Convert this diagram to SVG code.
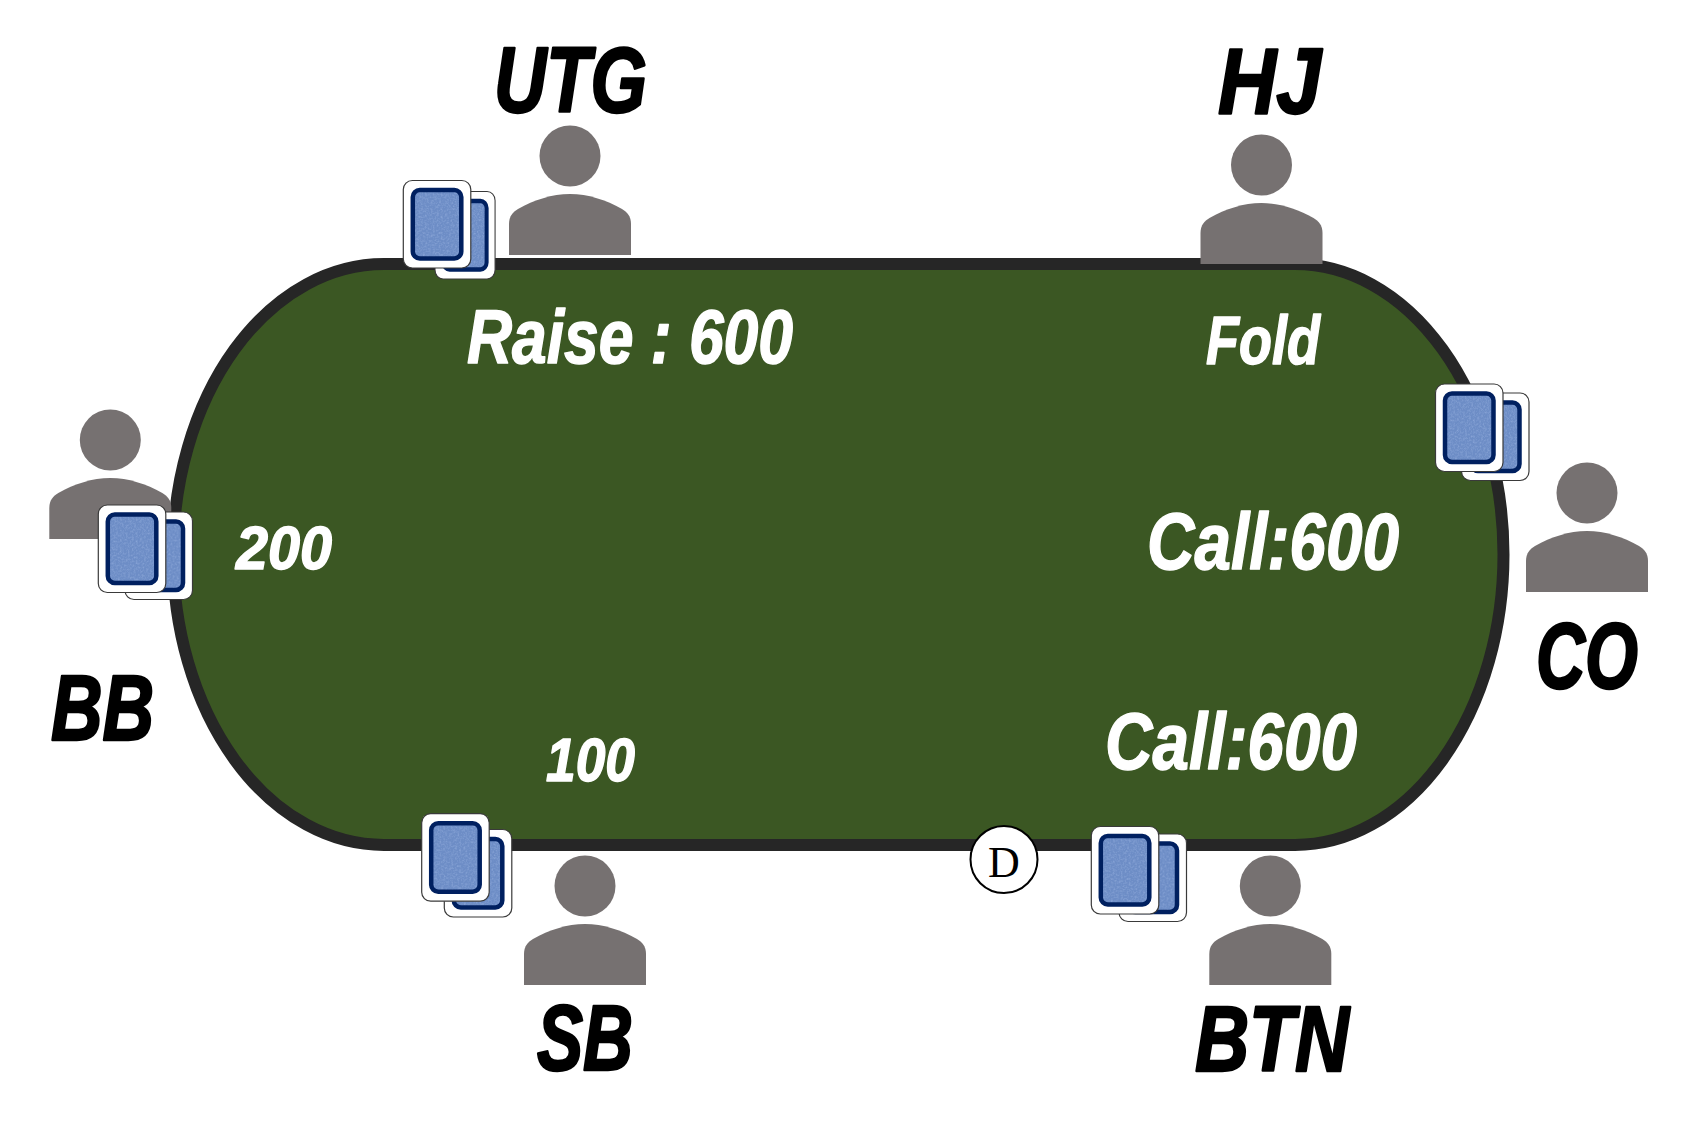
<svg xmlns="http://www.w3.org/2000/svg" width="1689" height="1135" viewBox="0 0 1689 1135">
<style>
.table{fill:#3b5723;stroke:#262626;stroke-width:12}
.person{fill:#767171}
.card{fill:#fff;stroke:#3a3a3a;stroke-width:1.2}
.face{fill:#6d8dc6;filter:url(#grain)}
.rim{fill:none;stroke:#002060;stroke-width:4.500}
.pos{font-family:"Liberation Sans",Arial,sans-serif;font-weight:700;font-style:italic;font-size:92px;fill:#000;stroke:#000;stroke-width:2.500;stroke-linejoin:round}
.act{font-family:"Liberation Sans",Arial,sans-serif;font-weight:700;font-style:italic;fill:#fff;stroke:#fff;stroke-width:1.500;stroke-linejoin:round}
.dtext{font-family:"Liberation Serif","Times New Roman",serif;font-size:44px;fill:#000;text-anchor:middle}
</style>
<defs>
<filter id="grain" x="0" y="0" width="100%" height="100%" color-interpolation-filters="sRGB">
<feTurbulence type="fractalNoise" baseFrequency="0.5" numOctaves="2" seed="4" result="n"/>
<feColorMatrix in="n" type="matrix" values="0 0 0 0 0.72  0 0 0 0 0.8  0 0 0 0 0.95  0.7 0 0 0 -0.28" result="w"/>
<feComposite in="w" in2="SourceGraphic" operator="in" result="t"/>
<feMerge><feMergeNode in="SourceGraphic"/><feMergeNode in="t"/></feMerge>
</filter>
<g id="person-shape">
<ellipse class="person" cx="0" cy="0" rx="30.500" ry="30.500"/>
<path class="person" d="M-61 99V68C-61 60-57 56-52 53C-36 44-18 38 0 38C18 38 36 44 52 53C57 56 61 60 61 68V99Z"/>
</g>
<g id="card-shape">
<rect class="card" x="0" y="0" width="67.500" height="87.500" rx="9"/>
<rect class="face" x="9.500" y="9.500" width="48.500" height="68.500" rx="7"/>
<rect class="rim" x="9.500" y="9.500" width="48.500" height="68.500" rx="7"/>
</g>
</defs>
<rect width="1689" height="1135" fill="#fff"/>
<g id="table"><path class="table" d="M384 264H1295A208.500 290.500 0 0 1 1295 845H384A211 290.500 0 0 1 384 264Z"/></g>
<g id="connectors"></g>
<g id="utg"><use href="#person-shape" x="570" y="156"/><use href="#card-shape" transform="translate(435 191.500) scale(0.89 1)"/><use href="#card-shape" x="403.300" y="180.500"/>
<text class="pos" x="494" y="112" textLength="153" lengthAdjust="spacingAndGlyphs">UTG</text>
<text class="act" x="467" y="363" font-size="76" textLength="326" lengthAdjust="spacingAndGlyphs">Raise : 600</text></g>
<g id="hj"><use href="#person-shape" x="1261.500" y="165"/>
<text class="pos" x="1218" y="113" textLength="103" lengthAdjust="spacingAndGlyphs">HJ</text>
<text class="act" x="1206" y="364" font-size="68" textLength="114" lengthAdjust="spacingAndGlyphs">Fold</text></g>
<g id="co"><use href="#person-shape" x="1587" y="493"/><use href="#card-shape" x="1461.500" y="393"/><use href="#card-shape" x="1435.500" y="384"/>
<text class="pos" x="1536" y="688" textLength="102" lengthAdjust="spacingAndGlyphs">CO</text>
<text class="act" x="1147" y="569" font-size="80" textLength="252" lengthAdjust="spacingAndGlyphs">Call:600</text></g>
<g id="btn"><use href="#person-shape" x="1270.300" y="886"/><use href="#card-shape" x="1119" y="834"/><use href="#card-shape" x="1091.300" y="826.500"/>
<text class="pos" x="1195" y="1071" textLength="154" lengthAdjust="spacingAndGlyphs">BTN</text>
<text class="act" x="1105" y="769" font-size="80" textLength="252" lengthAdjust="spacingAndGlyphs">Call:600</text></g>
<g id="sb"><use href="#person-shape" x="585" y="886"/><use href="#card-shape" x="444.300" y="829.500"/><use href="#card-shape" x="421.700" y="813.700"/>
<text class="pos" x="537" y="1070" textLength="96" lengthAdjust="spacingAndGlyphs">SB</text>
<text class="act" x="546" y="781" font-size="62" textLength="89" lengthAdjust="spacingAndGlyphs">100</text></g>
<g id="bb"><use href="#person-shape" x="110.300" y="440"/><use href="#card-shape" x="125" y="512"/><use href="#card-shape" x="98.300" y="505"/>
<text class="pos" x="51" y="740" textLength="103" lengthAdjust="spacingAndGlyphs">BB</text>
<text class="act" x="236" y="569" font-size="62" textLength="96" lengthAdjust="spacingAndGlyphs">200</text></g>
<g id="dealer"><circle cx="1004" cy="859.500" r="33.500" fill="#fff" stroke="#000" stroke-width="2"/>
<text class="dtext" x="1004" y="876.500">D</text></g>
</svg>
